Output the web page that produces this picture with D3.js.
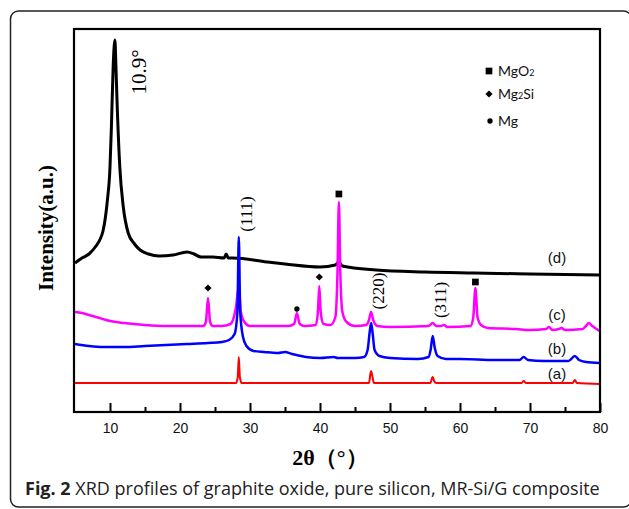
<!DOCTYPE html>
<html>
<head>
<meta charset="utf-8">
<script src="https://cdn.jsdelivr.net/npm/d3@7"></script>
<style>
  body { margin: 0; background: #fff; }
  svg { display: block; }
</style>
</head>
<body>
<svg id="chart" width="629" height="509"></svg>
<script>
// XRD 데이터 [2θ, intensity(a.u.)]
const curveA = [[5,29],[28.0,29],[28.25,35],[28.4,55],[28.55,35],[28.8,29],[47.0,29],[47.2,38],[47.3,41],[47.45,37],[47.7,29],
  [55.8,29],[56.0,34],[56.1,35],[56.3,31],[56.6,29],[68.8,29],[69.1,31],[69.4,29],[76.1,29],[76.4,32],[76.7,29],[80,28]];

const curveB = [[5,68],[7,66],[9,65],[12,65],[15,66],[18,67],[21,68],[24,69],[26,70],[27,72],[27.8,78],[28.2,100],[28.4,175],
  [28.6,100],[29.0,75],[29.5,66],[30.5,61],[32,60],[34,59],[35,60],[36,58],[38,55],[40,54],[42,55],[42.5,54],[45,54],
  [46.3,55],[46.8,62],[47.1,80],[47.3,89],[47.5,80],[47.8,62],[48.5,56],[50,54],[54,53],[55.5,55],[55.8,62],[56.1,76],
  [56.4,64],[56.8,56],[58,53],[60,53],[65,52],[68.5,52],[69.1,55],[69.7,52],[72,51],[75.5,51],[76.4,56],[77,52],[78,50],[80,49]];

const curveC = [[5,100],[6,99],[7,97],[8,95],[10,91],[12,89],[15,87],[18,86],[21,86],[23.3,86],[23.7,90],[24.0,114],[24.3,90],
  [24.7,86],[26,86],[27.2,88],[27.7,95],[28.0,105],[28.4,125],[28.7,100],[29.2,90],[30,86],[33,86],[35.5,86],[36.3,88],
  [36.7,99],[37.1,88],[37.8,86],[39.4,87],[39.7,100],[39.9,126],[40.1,100],[40.5,88],[41.5,87],[42.2,95],[42.5,140],
  [42.7,210],[42.9,140],[43.2,100],[43.8,90],[45,86],[46.6,87],[47.0,92],[47.3,100],[47.6,92],[48.2,86],[50,85],
  [55.5,86],[56.1,89],[56.6,86],[57.3,86],[57.7,87],[58.2,85],[61.5,86],[61.9,95],[62.2,124],[62.5,95],[63,87],[64,84],
  [68,83],[70,82],[72.3,83],[72.7,85],[73.2,82],[74.1,83],[74.5,84],[75,82],[77.5,83],[78.0,86],[78.4,89],[78.9,86],
  [79.5,83],[80,81]];

const curveD = [[5,149],[6,154],[7,158],[8,166],[8.6,173],[9.0,181],[9.6,210],[10.0,245],[10.2,285],[10.45,345],[10.7,372],
  [10.85,345],[11.0,312],[11.4,245],[11.9,205],[12.6,179],[13.5,168],[14.3,162],[15.5,158],[17,156],[19,157],[21,160],
  [22,158],[23,155],[24.7,155],[26.3,154],[26.6,158],[26.9,154],[27.6,154],[32.4,150],[35,148],[40,145],[42.2,147],
  [42.7,150],[43.2,146],[48,142],[55,140],[62,139],[70,138],[80,137]];

const series = [
  { name: "(d)", color: "#000000", width: 3, values: curveD, label: [557, 263] },
  { name: "(c)", color: "#ff00ff", width: 2.5, values: curveC, label: [557, 320] },
  { name: "(b)", color: "#0000ff", width: 2.5, values: curveB, label: [557, 354] },
  { name: "(a)", color: "#ff0000", width: 2, values: curveA, label: [557, 379] }
];

// 상 표시 [2θ, intensity, phase]
const phaseMarks = [[24.0,124,"Mg2Si"],[36.7,103,"Mg"],[39.9,135,"Mg2Si"],[42.7,218,"MgO2"],[62.2,130,"MgO2"]];
// 결정면 라벨 [2θ, intensity, text]
const planeLabels = [[28.4,198,"(111)"],[47.3,121,"(220)"],[56.1,112,"(311)"]];

const xMajor = [10,20,30,40,50,60,70,80];
const xMinor = [15,25,35,45,55,65,75];

const svg = d3.select("#chart");

// 바깥 테두리
svg.append("rect")
  .attr("x", 10.5).attr("y", 11).attr("width", 621).attr("height", 496)
  .attr("rx", 8)
  .style("fill", "none").style("stroke", "#222").style("stroke-width", 1.5);

const x = d3.scaleLinear().domain([5, 80]).range([75, 600]);
const y = d3.scaleLinear().domain([0, 383]).range([412, 29]);

const line = d3.line()
  .x(d => x(d[0]))
  .y(d => y(d[1]))
  .curve(d3.curveMonotoneX);

svg.append("g").selectAll("path.xrd")
  .data(series)
  .join("path")
  .attr("class", "xrd")
  .attr("d", d => line(d.values))
  .style("fill", "none")
  .style("stroke", d => d.color)
  .style("stroke-width", d => d.width)
  .style("stroke-linejoin", "round");

// 축 (눈금 안쪽)
svg.append("g")
  .attr("transform", "translate(0,412)")
  .call(d3.axisBottom(x).tickValues(xMajor).tickSize(-9).tickPadding(11).tickFormat(d3.format("d")))
  .call(g => g.select(".domain").remove())
  .call(g => g.selectAll("line").style("stroke", "#000").style("stroke-width", 2))
  .call(g => g.selectAll("text").style("font-family", "'Liberation Sans', Arial, sans-serif").style("font-size", "14px").style("fill", "#111"));
svg.append("g")
  .attr("transform", "translate(0,412)")
  .call(d3.axisBottom(x).tickValues(xMinor).tickSize(-5).tickFormat(""))
  .call(g => g.select(".domain").remove())
  .call(g => g.selectAll("line").style("stroke", "#000").style("stroke-width", 2));

// 플롯 프레임
svg.append("rect")
  .attr("x", 74).attr("y", 29).attr("width", 526).attr("height", 383)
  .style("fill", "none").style("stroke", "#000").style("stroke-width", 2.2);

// 마커
const symbolOf = {
  "MgO2": d3.symbol().type(d3.symbolSquare).size(45),
  "Mg2Si": d3.symbol().type(d3.symbolSquare).size(26),
  "Mg": d3.symbol().type(d3.symbolCircle).size(22)
};
svg.append("g").selectAll("path.mark")
  .data(phaseMarks)
  .join("path")
  .attr("class", "mark")
  .attr("d", d => symbolOf[d[2]]())
  .attr("transform", d => `translate(${x(d[0])},${y(d[1])})` + (d[2] === "Mg2Si" ? " rotate(45)" : ""))
  .style("fill", "#000");

// 결정면 라벨
const serif = "'Liberation Serif', 'Times New Roman', serif";
svg.append("g").selectAll("text.plane")
  .data(planeLabels)
  .join("text")
  .attr("class", "plane")
  .attr("transform", d => `translate(${x(d[0]) + 13},${y(d[1])}) rotate(-90)`)
  .attr("text-anchor", "middle")
  .style("font-family", serif)
  .style("font-size", "17px")
  .text(d => d[2]);

svg.append("text")
  .attr("transform", `translate(${x(10.7) + 31},72) rotate(-90)`)
  .attr("text-anchor", "middle")
  .style("font-family", serif)
  .style("font-size", "21px")
  .text("10.9°");

// 시리즈 라벨
svg.append("g").selectAll("text.series")
  .data(series)
  .join("text")
  .attr("class", "series")
  .attr("x", d => d.label[0])
  .attr("y", d => d.label[1])
  .attr("text-anchor", "middle")
  .style("font-family", "'Liberation Sans', Arial, sans-serif")
  .style("font-size", "15px")
  .style("fill", "#111")
  .text(d => d.name);

// 범례
const legendItems = [["MgO2", "MgO", "2", ""], ["Mg2Si", "Mg", "2", "Si"], ["Mg", "Mg", "", ""]];
const legend = svg.append("g").attr("transform", "translate(489,71)");
legendItems.forEach((item, i) => {
  const dy = [0, 23, 50][i];
  legend.append("path")
    .attr("d", symbolOf[item[0]]())
    .attr("transform", `translate(${i === 2 ? 1 : 0},${dy})` + (item[0] === "Mg2Si" ? " rotate(45)" : ""))
    .style("fill", "#000");
  const t = legend.append("text")
    .attr("x", 9).attr("y", dy + 5)
    .style("font-family", "Lato, 'Noto Sans', sans-serif")
    .style("font-size", "14px")
    .style("fill", "#111");
  t.append("tspan").text(item[1]);
  if (item[2]) t.append("tspan").style("font-size", "9px").text(item[2]);
  if (item[3]) t.append("tspan").text(item[3]);
});

// 축 제목
svg.append("text")
  .attr("transform", "translate(53,228) rotate(-90)")
  .attr("text-anchor", "middle")
  .style("font-family", serif)
  .style("font-weight", "bold")
  .style("font-size", "21px")
  .text("Intensity(a.u.)");

svg.append("text")
  .attr("x", 330).attr("y", 465)
  .attr("text-anchor", "middle")
  .style("font-family", serif)
  .style("font-weight", "bold")
  .style("font-size", "22px")
  .text("2θ（°）");

// 캡션
const cap = svg.append("text")
  .attr("x", 25).attr("y", 495)
  .style("font-family", "'Open Sans', sans-serif")
  .style("font-size", "18px")
  .style("fill", "#222");
cap.append("tspan").style("font-weight", "bold").text("Fig. 2");
cap.append("tspan").text(" XRD profiles of graphite oxide, pure silicon, MR-Si/G composite");
</script>
</body>
</html>
